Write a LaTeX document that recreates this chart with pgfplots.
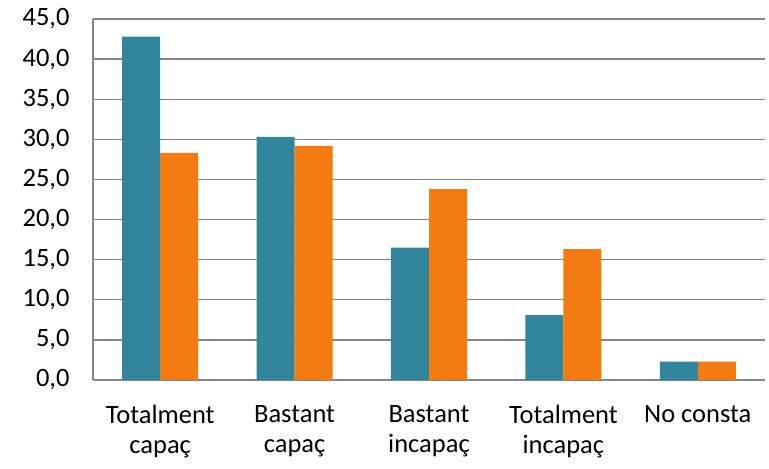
\documentclass[border=0pt]{standalone}
\usepackage{fontspec}
\setmainfont{Carlito}
\usepackage{pgfplots}
\pgfplotsset{compat=1.18}
\definecolor{tealbar}{RGB}{49,133,156}
\definecolor{orangebar}{RGB}{244,123,18}
\definecolor{gridgray}{RGB}{134,134,134}
\begin{document}
\begin{tikzpicture}
\useasboundingbox (-93bp,-89bp) rectangle (676bp,380bp);
\begin{axis}[
  at={(0,0)}, anchor=south west,
  scale only axis,
  width=672bp, height=361bp,
  ybar=0pt,
  bar width=0.283,
  xmin=-0.5, xmax=4.5,
  ymin=0, ymax=45,
  ytick={0,5,...,45},
  xtick={0,1,2,3,4},
  xticklabels={{Totalment\\capaç},{Bastant\\capaç},{Bastant\\incapaç},{Totalment\\incapaç},{No consta}},
  xticklabel style={align=center, font=\fontsize{26.5bp}{29.5bp}\selectfont, yshift=-22bp},
  yticklabel style={font=\fontsize{26.5bp}{30bp}\selectfont, xshift=-20bp},
  /pgf/number format/assume math mode=true,
  yticklabel={\pgfmathprintnumber[fixed,fixed zerofill,precision=1,use comma]{\tick}},
  major tick length=0pt,
  ymajorgrids,
  grid style={gridgray, line width=1.3bp},
  axis x line*=bottom,
  axis y line*=left,
  axis line style={gridgray, line width=1.3bp},
  x axis line style={-}, y axis line style={-},
  clip=false,
]
\addplot[fill=tealbar, draw=none] coordinates {(0,42.8) (1,30.3) (2,16.5) (3,8.1) (4,2.3)};
\addplot[fill=orangebar, draw=none] coordinates {(0,28.3) (1,29.2) (2,23.8) (3,16.3) (4,2.3)};
\end{axis}
\end{tikzpicture}
\end{document}
